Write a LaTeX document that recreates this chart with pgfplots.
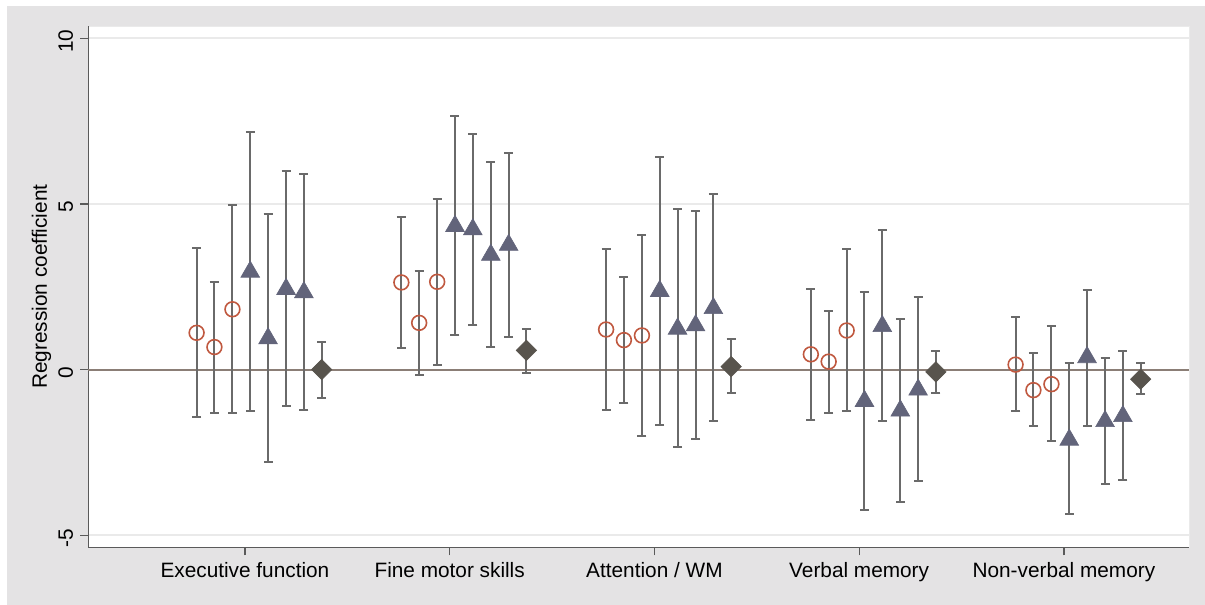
\documentclass[border=0pt]{standalone}
\usepackage{fontspec}
\setmainfont{Liberation Sans}
\usepackage{pgfplots}
\pgfplotsset{compat=1.18}
\usepackage{pgfplotstable}

\definecolor{bggray}{HTML}{E4E3E4}
\definecolor{gridc}{HTML}{EAEAEA}
\definecolor{zeroc}{HTML}{8B7E76}
\definecolor{barc}{HTML}{6A6A6A}
\definecolor{axc}{HTML}{5A5A5A}
\definecolor{circc}{HTML}{C0583F}
\definecolor{tric}{HTML}{62647A}
\definecolor{diac}{HTML}{58544D}

% x = group + offset, y = estimate, lo/hi = interval
\pgfplotstableread{
x      y      lo     hi
0.764  1.11  -1.44   3.66
0.851  0.68  -1.30   2.65
0.939  1.82  -1.32   4.98
1.764  2.63   0.64   4.60
1.851  1.41  -0.17   2.99
1.939  2.65   0.15   5.15
2.764  1.21  -1.22   3.65
2.851  0.89  -1.01   2.78
2.939  1.03  -2.00   4.07
3.764  0.46  -1.52   2.44
3.851  0.24  -1.31   1.77
3.939  1.18  -1.25   3.63
4.764  0.15  -1.24   1.58
4.851 -0.62  -1.70   0.49
4.939 -0.44  -2.17   1.32
}\circdata

\pgfplotstableread{
x      y      lo     hi
1.026  2.95  -1.24   7.17
1.113  0.94  -2.79   4.70
1.201  2.43  -1.10   6.00
1.288  2.33  -1.22   5.90
2.026  4.33   1.05   7.65
2.113  4.23   1.36   7.10
2.201  3.46   0.67   6.27
2.288  3.76   0.98   6.54
3.026  2.37  -1.66   6.43
3.113  1.23  -2.34   4.85
3.201  1.33  -2.10   4.78
3.288  1.85  -1.56   5.29
4.026 -0.95  -4.24   2.34
4.113  1.31  -1.56   4.21
4.201 -1.24  -4.01   1.54
4.288 -0.61  -3.37   2.20
5.026 -2.12  -4.37   0.21
5.113  0.37  -1.69   2.40
5.201 -1.56  -3.45   0.36
5.288 -1.41  -3.32   0.55
}\tridata

\pgfplotstableread{
x      y      lo     hi
1.375  0.00  -0.85   0.82
2.375  0.58  -0.10   1.22
3.375  0.09  -0.72   0.91
4.375 -0.07  -0.72   0.57
5.375 -0.29  -0.74   0.19
}\diadata

\pgfplotsset{
  cibars/.style={
    only marks,
    error bars/y dir=both,
    error bars/y explicit,
    error bars/error bar style={draw=barc, line width=1pt, solid},
    error bars/error mark options={draw=barc, line width=1pt, mark size=2.25pt, solid, rotate=90}
  }
}

\begin{document}
\fontsize{10.4}{12.5}\selectfont
\begin{tikzpicture}
\useasboundingbox (0,0) rectangle (602.5pt,302.5pt);
\fill[white] (0,0) rectangle (602.5pt,302.5pt);
\fill[bggray] (3.5pt,0) rectangle (602.5pt,299.5pt);
\begin{axis}[
  at={(44.25pt,28.75pt)}, anchor=south west,
  width=550.25pt, height=260.75pt, scale only axis,
  xmin=0.236, xmax=5.611, ymin=-5.37, ymax=10.37,
  axis background/.style={fill=white, draw=gridc},
  axis x line*=bottom, axis y line*=left,
  axis line style={draw=axc, line width=0.9pt},
  tick align=outside, major tick length=4pt,
  tick style={draw=axc, line width=0.6pt},
  xtick={1,2,3,4,5},
  xticklabels={Executive function, Fine motor skills, Attention / WM, Verbal memory, Non-verbal memory},
  ytick={-5,0,5,10},
  ymajorgrids, grid style={draw=gridc, line width=0.8pt},
  /pgf/number format/assume math mode=true,
  yticklabel style={rotate=90, anchor=south, xshift=-1.5pt},
  ylabel={Regression coefficient},
  every axis y label/.style={at={(axis description cs:0,0.5)}, xshift=-23.5pt, rotate=90, anchor=center},
  clip=false,
]
\draw[zeroc, line width=1pt] (axis cs:0.236,0) -- (axis cs:5.611,0);

\addplot[cibars, mark=o, mark size=3.7pt, mark options={draw=circc, line width=0.8pt}]
  table[x=x, y=y, y error plus expr=\thisrow{hi}-\thisrow{y}, y error minus expr=\thisrow{y}-\thisrow{lo}] {\circdata};

\addplot[cibars, mark=triangle*, mark size=5.4pt, mark options={fill=tric, draw=tric, line width=0.3pt}]
  table[x=x, y=y, y error plus expr=\thisrow{hi}-\thisrow{y}, y error minus expr=\thisrow{y}-\thisrow{lo}] {\tridata};

\addplot[cibars, mark=square*, mark size=3.6pt, mark options={fill=diac, draw=diac, rotate=45, line width=0.3pt}]
  table[x=x, y=y, y error plus expr=\thisrow{hi}-\thisrow{y}, y error minus expr=\thisrow{y}-\thisrow{lo}] {\diadata};
\end{axis}
\end{tikzpicture}
\end{document}
